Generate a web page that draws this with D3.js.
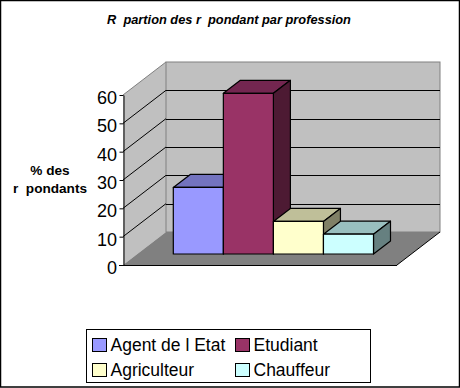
<!DOCTYPE html>
<html>
<head>
<meta charset="utf-8">
<script src="https://cdn.jsdelivr.net/npm/d3@7"></script>
<style>
  html, body { margin: 0; padding: 0; background: #fff; }
  svg { display: block; }
  text { font-family: "Liberation Sans", Arial, sans-serif; fill: #000; }
</style>
</head>
<body>
<div id="chart"></div>
<script>
var professions = ["Agent de l Etat", "Etudiant", "Agriculteur", "Chauffeur"];
var percents = [23.5, 56.7, 11.5, 7];
var y_ticks = [0, 10, 20, 30, 40, 50, 60];
var legend_rows = [["Agent de l Etat", "Etudiant"], ["Agriculteur", "Chauffeur"]];
var face_colors = ["#9999ff", "#993366", "#ffffcc", "#ccffff"];
var top_colors = ["#7373bf", "#732650", "#bfbf99", "#99bfbf"];
var side_colors = ["#4d4d80", "#4d1a33", "#808066", "#668080"];

var width = 460, height = 388;
var plot = { "left": 123, "right": 397, "top": 95, "bottom": 265 };
var wall = { "dx": 43, "dy": -33 };
var bar_front = { "dx": 14, "dy": -11 };
var bar_depth = { "dx": 17, "dy": -13 };

var svg = d3.select("#chart").append("svg")
  .attr("width", width)
  .attr("height", height);

var scales = {
  "x": d3.scaleBand()
    .domain(professions)
    .range([159.3, 359.5]),
  "y": d3.scaleLinear()
    .domain([0, 60])
    .range([plot.bottom, plot.top])
};

function points(list) {
  return list.map(function(d) { return d.join(","); }).join(" ");
}

function draw_frame() {
  svg.append("rect")
    .attr("x", 0.5)
    .attr("y", 0.5)
    .attr("width", width - 1)
    .attr("height", height - 1.5)
    .attr("fill", "white")
    .attr("stroke", "black")
    .attr("stroke-width", 1.5);
}

function draw_walls() {
  var bottom = plot.bottom, top = plot.top;
  var left = plot.left, right = plot.right;

  svg.append("polygon")
    .attr("points", points([
      [left, bottom], [left, top],
      [left + wall.dx, top + wall.dy], [left + wall.dx, bottom + wall.dy]
    ]))
    .attr("fill", "#c0c0c0");

  svg.append("rect")
    .attr("x", left + wall.dx)
    .attr("y", top + wall.dy)
    .attr("width", right - left)
    .attr("height", bottom - top)
    .attr("fill", "#c0c0c0")
    .attr("stroke", "#808080");

  svg.append("polygon")
    .attr("points", points([
      [left, bottom], [right, bottom],
      [right + wall.dx, bottom + wall.dy], [left + wall.dx, bottom + wall.dy]
    ]))
    .attr("fill", "#808080");

  svg.append("line")
    .attr("x1", left)
    .attr("y1", top)
    .attr("x2", left + wall.dx)
    .attr("y2", top + wall.dy)
    .attr("stroke", "#808080");

  svg.append("line")
    .attr("x1", right)
    .attr("y1", bottom)
    .attr("x2", right + wall.dx)
    .attr("y2", bottom + wall.dy)
    .attr("stroke", "black");
}

function draw_grid() {
  var grid_ticks = y_ticks.filter(function(d) { return d > 0 && d < 60; });

  svg.selectAll(".grid_back")
    .data(grid_ticks).enter()
    .append("line")
    .attr("class", "grid_back")
    .attr("x1", plot.left + wall.dx)
    .attr("x2", plot.right + wall.dx)
    .attr("y1", function(d) { return Math.round(scales.y(d) + wall.dy) + 0.5; })
    .attr("y2", function(d) { return Math.round(scales.y(d) + wall.dy) + 0.5; })
    .attr("stroke", "black");

  svg.selectAll(".grid_side")
    .data(grid_ticks).enter()
    .append("line")
    .attr("class", "grid_side")
    .attr("x1", plot.left)
    .attr("x2", plot.left + wall.dx)
    .attr("y1", function(d) { return scales.y(d); })
    .attr("y2", function(d) { return scales.y(d) + wall.dy; })
    .attr("stroke", "black");
}

function draw_bars() {
  var base = plot.bottom + bar_front.dy;
  var bar = svg.selectAll(".bar")
    .data(professions).enter()
    .append("g")
    .attr("class", "bar")
    .attr("stroke", "black")
    .attr("stroke-width", 1.2)
    .attr("stroke-linejoin", "round");

  function x0(d) { return scales.x(d) + bar_front.dx; }
  function x1(d) { return x0(d) + scales.x.bandwidth(); }
  function y1(d, i) { return scales.y(percents[i]) + bar_front.dy; }

  bar.append("polygon")
    .attr("fill", function(d, i) { return top_colors[i]; })
    .attr("points", function(d, i) {
      return points([
        [x0(d), y1(d, i)], [x1(d), y1(d, i)],
        [x1(d) + bar_depth.dx, y1(d, i) + bar_depth.dy],
        [x0(d) + bar_depth.dx, y1(d, i) + bar_depth.dy]
      ]);
    });

  bar.append("polygon")
    .attr("fill", function(d, i) { return side_colors[i]; })
    .attr("points", function(d, i) {
      return points([
        [x1(d), y1(d, i)], [x1(d) + bar_depth.dx, y1(d, i) + bar_depth.dy],
        [x1(d) + bar_depth.dx, base + bar_depth.dy], [x1(d), base]
      ]);
    });

  bar.append("rect")
    .attr("fill", function(d, i) { return face_colors[i]; })
    .attr("x", x0)
    .attr("y", y1)
    .attr("width", scales.x.bandwidth())
    .attr("height", function(d, i) { return base - y1(d, i); });
}

function draw_axis() {
  var axis = svg.append("g")
    .attr("transform", "translate(" + (plot.left + 0.5) + ",0)")
    .call(
      d3.axisLeft(scales.y)
        .tickValues(y_ticks)
        .tickSize(4)
        .tickSizeOuter(0)
        .tickPadding(2.5)
    );

  axis.selectAll("text")
    .attr("font-size", 18)
    .attr("dy", "0.48em")
    .style("font-family", '"Liberation Sans", Arial, sans-serif')
    .attr("fill", "black");
  axis.selectAll("line, path").attr("stroke", "black");

  svg.append("line")
    .attr("x1", plot.left - 4)
    .attr("x2", plot.right)
    .attr("y1", plot.bottom + 0.5)
    .attr("y2", plot.bottom + 0.5)
    .attr("stroke", "black");
}

function draw_labels() {
  svg.append("text")
    .attr("x", 229)
    .attr("y", 24)
    .attr("text-anchor", "middle")
    .attr("font-size", 12.8)
    .attr("font-weight", "bold")
    .attr("font-style", "italic")
    .style("white-space", "pre")
    .text("R  partion des r  pondant par profession");

  svg.selectAll(".y_title")
    .data(["% des", "r  pondants"]).enter()
    .append("text")
    .attr("class", "y_title")
    .attr("x", 50)
    .attr("y", function(d, i) { return 175 + i * 18; })
    .attr("text-anchor", "middle")
    .attr("font-size", 13.6)
    .attr("font-weight", "bold")
    .style("white-space", "pre")
    .text(function(d) { return d; });
}

function draw_legend() {
  svg.append("rect")
    .attr("x", 86.5)
    .attr("y", 329.5)
    .attr("width", 284)
    .attr("height", 53)
    .attr("fill", "white")
    .attr("stroke", "black");

  var col_x = [92.5, 235.5];
  var row_y = [338.5, 363.5];

  legend_rows.forEach(function(row, r) {
    row.forEach(function(name, c) {
      svg.append("rect")
        .attr("x", col_x[c])
        .attr("y", row_y[r])
        .attr("width", 14)
        .attr("height", 13)
        .attr("fill", face_colors[professions.indexOf(name)])
        .attr("stroke", "black");

      svg.append("text")
        .attr("x", col_x[c] + 18)
        .attr("y", row_y[r] + 12.5)
        .attr("font-size", 17.5)
        .text(name);
    });
  });
}

draw_frame();
draw_walls();
draw_grid();
draw_bars();
draw_axis();
draw_labels();
draw_legend();
</script>
</body>
</html>
